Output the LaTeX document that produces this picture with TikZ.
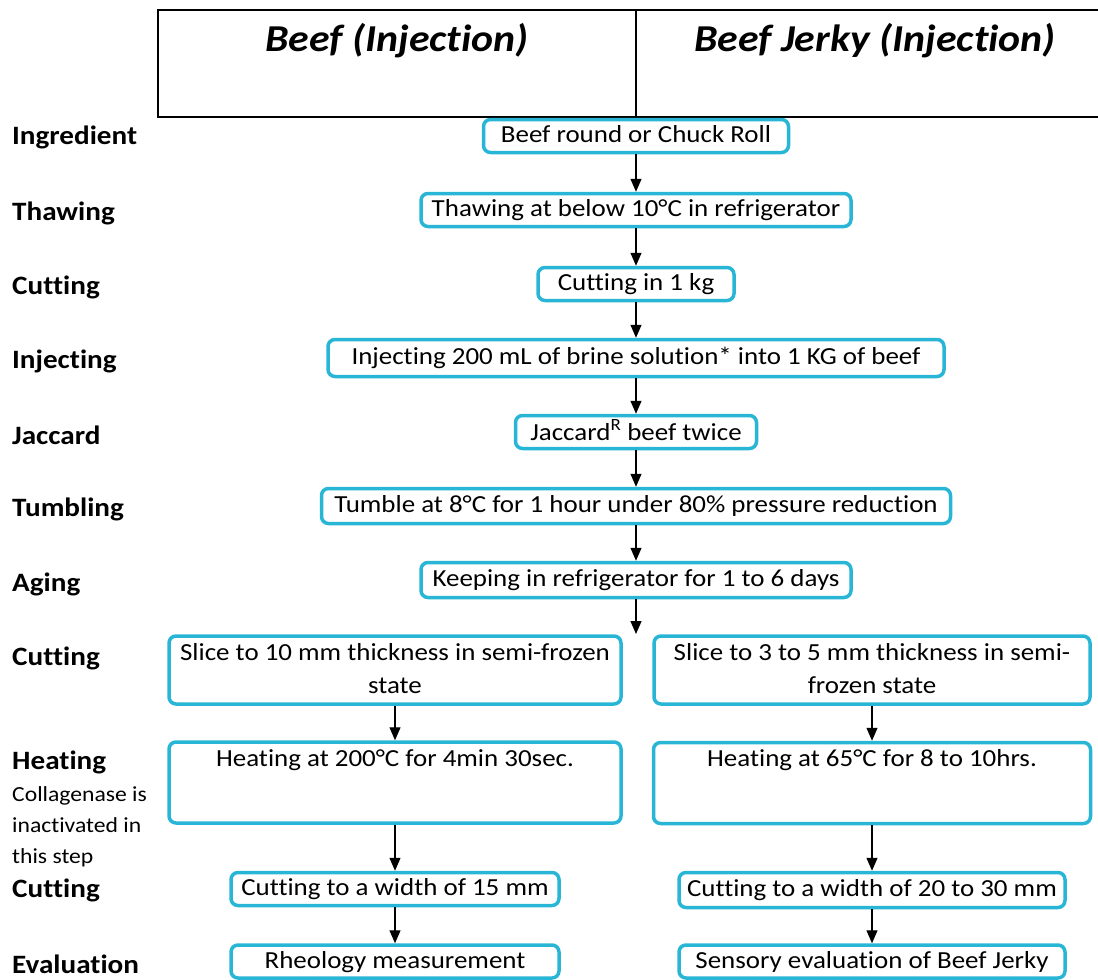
\documentclass[tikz,border=0pt]{standalone}
\usepackage{fontspec}
\setmainfont{Carlito}[FakeStretch=1.1,Ligatures=NoCommon]
\usetikzlibrary{arrows.meta}
\definecolor{stepblue}{RGB}{40,181,214}

\begin{document}
\begin{tikzpicture}[x=1pt,y=-1pt,node distance=74pt,>={Triangle[length=13pt,width=11pt]}]
        \tikzstyle{proc}=[rectangle, rounded corners=7pt, draw=stepblue, line width=3.5pt, align=center, minimum height=33pt, inner ysep=1pt, text depth=4pt, font=\fontsize{24.5}{33}\selectfont]
        \tikzstyle{heat}=[proc, text height=17pt, text depth=50pt, inner ysep=7pt]
        \tikzstyle{stagename}=[anchor=west, inner sep=0pt, font=\bfseries\fontsize{26.5}{30}\selectfont]
        \tikzstyle{head}=[font=\bfseries\itshape\fontsize{38}{44}\selectfont]
        \tikzstyle{flow}=[->, line width=1.2pt]
        \useasboundingbox (0,0) rectangle (1098,980);
        % header table
        \draw[line width=1.8pt] (1098,10) -| (158,117) -- (1098,117);
        \draw[line width=1.8pt] (636,10) -- (636,117);
        \node[head] (beefhead) at (397,41) {Beef (Injection)};
        \node[head] (jerkyhead) at (875,41) {Beef Jerky (Injection)};
        % stage names
        \node[stagename] (l1) at (12,137) {Ingredient};
        \node[stagename] (l2) at (12,213) {Thawing};
        \node[stagename] (l3) at (12,287) {Cutting};
        \node[stagename] (l4) at (12,361) {Injecting};
        \node[stagename] (l5) at (12,435) {Jaccard};
        \node[stagename] (l6) at (12,509) {Tumbling};
        \node[stagename] (l7) at (12,584) {Aging};
        \node[stagename] (l8) at (12,658) {Cutting};
        \node[stagename] (l9) at (12,762) {Heating};
        \node[anchor=west, inner sep=0pt, align=left, font=\fontsize{21.5}{31}\selectfont] (note) at (12,827) {Collagenase is\\inactivated in\\this step};
        \node[stagename] (l10) at (12,890) {Cutting};
        \node[stagename] (l11) at (12,964) {Evaluation};
        % common steps
        \node[proc, minimum width=305pt] (ingr) at (636,136) {Beef round or Chuck Roll};
        \node[proc, minimum width=430pt, below of=ingr] (thaw) {Thawing at below 10°C in refrigerator};
        \node[proc, minimum width=196pt, below of=thaw] (cut1) {Cutting in 1 kg};
        \node[proc, minimum width=616pt, minimum height=37pt, below of=cut1] (inject) {Injecting 200 mL of brine solution* into 1 KG of beef};
        \node[proc, minimum width=241pt, below of=inject] (jacc) {Jaccard\textsuperscript{R} beef twice};
        \node[proc, minimum width=629pt, minimum height=35pt, below of=jacc] (tumble) {Tumble at 8°C for 1 hour under 80\% pressure reduction};
        \node[proc, minimum width=430pt, minimum height=35pt, below of=tumble] (keep) {Keeping in refrigerator for 1 to 6 days};
        \coordinate (split) at (636,634);
        % beef
        \node[proc, minimum width=452pt, minimum height=68pt] (slicebeef) at (395,670) {Slice to 10 mm thickness in semi-frozen\\state};
        \node[heat, minimum width=452pt] (heatbeef) at (395,782.5) {Heating at 200°C for 4min 30sec.};
        \node[proc, minimum width=328pt] (cutbeef) at (395,889) {Cutting to a width of 15 mm};
        \node[proc, minimum width=328pt] (rheo) at (395,961.5) {Rheology measurement};
        % beef jerky
        \node[proc, minimum width=436pt, minimum height=68pt] (slicejerky) at (872,670) {Slice to 3 to 5 mm thickness in semi-\\frozen state};
        \node[heat, minimum width=437pt] (heatjerky) at (872,783) {Heating at 65°C for 8 to 10hrs.};
        \node[proc, minimum width=386pt, minimum height=35pt] (cutjerky) at (872,890) {Cutting to a width of 20 to 30 mm};
        \node[proc, minimum width=386pt] (sensory) at (872,961.5) {Sensory evaluation of Beef Jerky};
        % arrows
        \draw[flow] (ingr) -- (thaw);
        \draw[flow] (thaw) -- (cut1);
        \draw[flow] (cut1) -- (inject);
        \draw[flow] (inject) -- (jacc);
        \draw[flow] (jacc) -- (tumble);
        \draw[flow] (tumble) -- (keep);
        \draw[flow] (keep) -- (split);
        \draw[flow] (slicebeef) -- (heatbeef);
        \draw[flow] (heatbeef) -- (cutbeef);
        \draw[flow] (cutbeef) -- (rheo);
        \draw[flow] (slicejerky) -- (heatjerky);
        \draw[flow] (heatjerky) -- (cutjerky);
        \draw[flow] (cutjerky) -- (sensory);
\end{tikzpicture}
\end{document}
